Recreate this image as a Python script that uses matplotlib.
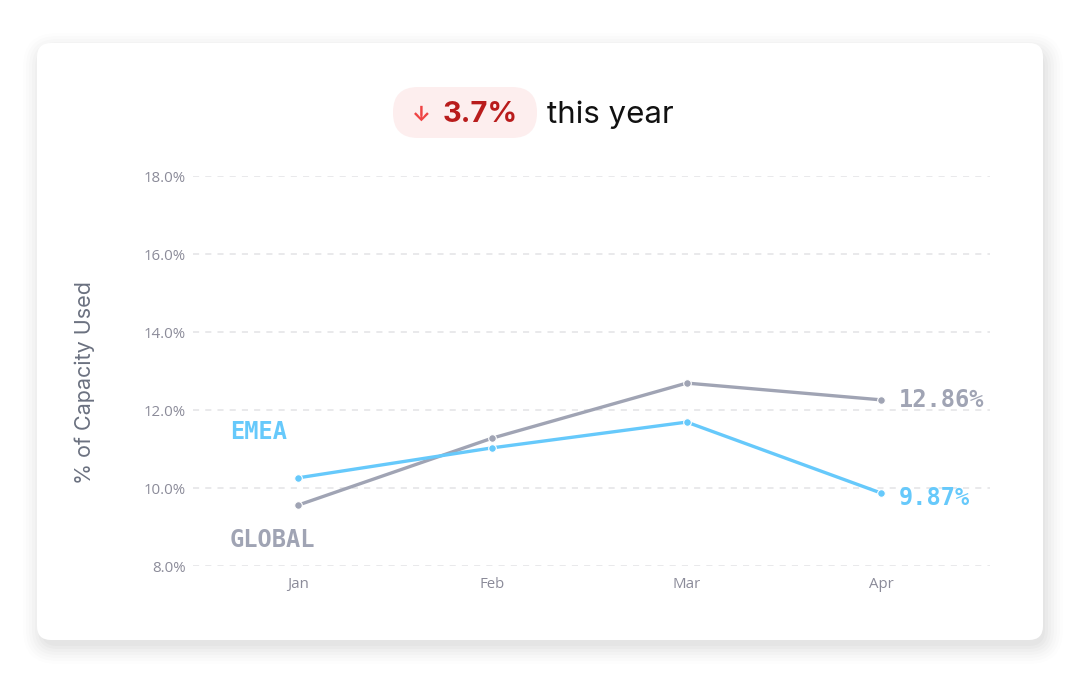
import matplotlib
matplotlib.use('Agg')
import matplotlib.pyplot as plt
from matplotlib.patches import FancyBboxPatch
from matplotlib.ticker import FuncFormatter

# datos
months = ['Jan', 'Feb', 'Mar', 'Apr']
global_vals = [9.56, 11.28, 12.69, 12.26]
emea_vals = [10.26, 11.03, 11.69, 9.87]
yticks = [8, 10, 12, 14, 16, 18]
global_label = '12.86%'
emea_label = '9.87%'
change_text = '3.7%'

BLUE = '#66c9fb'
GRAY = '#a0a4b4'

fig = plt.figure(figsize=(10.8, 6.82), dpi=100)
fig.patch.set_facecolor('white')

# fondo en pixeles: tarjeta con sombra y pastilla
bg = fig.add_axes([0, 0, 1, 1], zorder=0)
bg.set_xlim(0, 1080)
bg.set_ylim(682, 0)
bg.axis('off')
for i, a in enumerate([0.018, 0.018, 0.016, 0.014, 0.012, 0.010, 0.008]):
    g = 2 + i * 3
    bg.add_patch(FancyBboxPatch((37 - g + 6, 43 - g + 10), 1006 + 2 * g - 6, 597 + 2 * g - 6,
                                boxstyle='round,pad=0,rounding_size=%d' % (14 + g),
                                fc='#000000', ec='none', alpha=a))
bg.add_patch(FancyBboxPatch((37, 43), 1006, 597, boxstyle='round,pad=0,rounding_size=14',
                            fc='white', ec='none'))
bg.add_patch(FancyBboxPatch((393, 87), 144, 51, boxstyle='round,pad=0,rounding_size=25',
                            fc='#fdeeee', ec='none'))
bg.text(421, 115, '↓', color='#ef4444', fontsize=15, fontweight='bold',
        family=['Inter', 'DejaVu Sans'], ha='center', va='center')
bg.text(443, 115, change_text, color='#b91c1c', fontsize=21, fontweight='bold',
        family=['Inter', 'DejaVu Sans'], ha='left', va='center')
bg.text(547, 115, 'this year', color='#111111', fontsize=22.5,
        family=['Inter', 'DejaVu Sans'], ha='left', va='center')

# grafico
ax = fig.add_axes([193 / 1080, 1 - 566 / 682, (990 - 193) / 1080, (566 - 176) / 682], zorder=1)
ax.set_facecolor('none')
x = range(len(months))
ax.plot(x, global_vals, color=GRAY, lw=2.4, marker='o', ms=5.5, mec='white', mew=0.8, zorder=3)
ax.plot(x, emea_vals, color=BLUE, lw=2.4, marker='o', ms=5.5, mec='white', mew=0.8, zorder=4)

ax.set_xlim(-0.54, 3.56)
ax.set_ylim(8, 18)
ax.set_yticks(yticks)
ax.yaxis.set_major_formatter(FuncFormatter(lambda v, p: '%.1f%%' % v))
ax.set_xticks(list(x))
ax.set_xticklabels(months)
ax.grid(axis='y', color='#e3e3e6', linestyle=(0, (4, 4)), lw=1.1)
ax.grid(axis='x', visible=False)
for s in ax.spines.values():
    s.set_visible(False)
ax.tick_params(length=0, colors='#8b8b99', labelsize=10.8)
ax.tick_params(axis='y', pad=5)
ax.tick_params(axis='x', pad=8)
for t in ax.get_xticklabels() + ax.get_yticklabels():
    t.set_family(['Open Sans', 'DejaVu Sans'])

fig.text(85 / 1080, 1 - 383 / 682, '% of Capacity Used', rotation=90, color='#6b7180',
         fontsize=15.5, family=['Inter', 'DejaVu Sans'], ha='center', va='center')

mono = dict(family='DejaVu Sans Mono', fontweight='bold', fontsize=17, va='center')
ax.text(-0.35, 11.44, 'EMEA', color=BLUE, ha='left', **mono)
ax.text(-0.35, 8.67, 'GLOBAL', color=GRAY, ha='left', **mono)
ax.text(3.09, global_vals[-1], global_label, color=GRAY, ha='left', **mono)
ax.text(3.09, emea_vals[-1] - 0.12, emea_label, color=BLUE, ha='left', **mono)

fig.savefig('out.png', dpi=100)
